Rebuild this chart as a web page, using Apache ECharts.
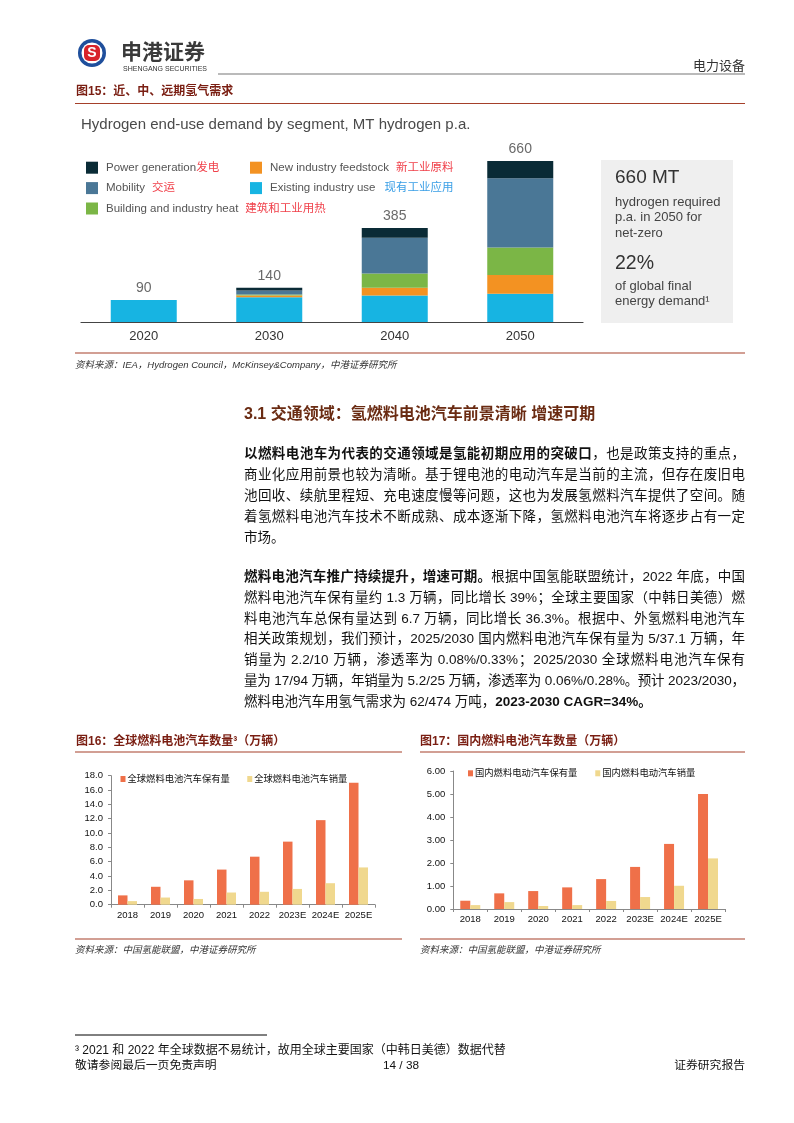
<!DOCTYPE html>
<html><head><meta charset="utf-8">
<script src="https://cdn.jsdelivr.net/npm/echarts@6/dist/echarts.min.js"></script>
<style>html,body{margin:0;padding:0;background:#fff}#c{width:794px;height:1123px}</style>
</head><body><div id="c"></div>
<script>
// ---------- Figure 15 data ----------
const h2Years = ['2020', '2030', '2040', '2050'];
const h2Existing = [90, 101, 109, 116];
const h2NewFeed = [0, 8, 31, 77];
const h2Heat = [0, 4, 59, 112];
const h2Mobility = [0, 16, 146, 284];
const h2Power = [0, 11, 40, 71];
const h2Totals = [90, 140, 385, 660];

// ---------- Figure 16 data ----------
const fcvYears = ['2018', '2019', '2020', '2021', '2022', '2023E', '2024E', '2025E'];
const globalStock = [1.3, 2.5, 3.4, 4.9, 6.7, 8.8, 11.8, 17.0];
const globalSales = [0.5, 1.0, 0.8, 1.7, 1.8, 2.2, 3.0, 5.2];

// ---------- Figure 17 data ----------
const chinaStock = [0.36, 0.68, 0.78, 0.94, 1.30, 1.83, 2.83, 5.00];
const chinaSales = [0.17, 0.30, 0.13, 0.17, 0.35, 0.52, 1.01, 2.20];

const FF = "'Liberation Sans','Noto Sans CJK SC',sans-serif";
const RED = '#ef7049', YEL = '#f0d88e';

const cv = document.createElement('canvas').getContext('2d');
function tw(t, size, weight) { cv.font = (weight || 'normal') + ' ' + size + 'px ' + FF; return cv.measureText(t).width; }
function T(x, y, text, o) {
  o = o || {};
  return { type: 'text', x: x, y: y, silent: true, style: {
    text: text, fontSize: o.size || 12, fontWeight: o.weight || 'normal', fontStyle: o.style || 'normal',
    fontFamily: o.family || FF, fill: o.color || '#000', align: o.align || 'left', verticalAlign: 'middle' } };
}
function L(x1, y1, x2, y2, color, w) {
  return { type: 'line', silent: true, shape: { x1: x1, y1: y1, x2: x2, y2: y2 }, style: { stroke: color, lineWidth: w || 1 } };
}
function lineEls(segs, x0, x1, y, size, justify) {
  const toks = [];
  segs.forEach(function (sg) { (sg[0].match(/[\x20-\x7e]+|./gu) || []).forEach(function (s) { toks.push({ s: s, b: sg[1] }); }); });
  toks.forEach(function (k) { k.w = tw(k.s, size, k.b ? 'bold' : 'normal'); });
  const W = toks.reduce(function (a, k) { return a + k.w; }, 0);
  const extra = justify && toks.length > 1 ? (x1 - x0 - W) / (toks.length - 1) : 0;
  let x = x0; const els = [];
  toks.forEach(function (k) { els.push(T(x, y, k.s, { size: size, weight: k.b ? 'bold' : 'normal', color: '#111' })); x += k.w + extra; });
  return els;
}

const para1 = [
  [[['以燃料电池车为代表的交通领域是氢能初期应用的突破口', 1], ['，也是政策支持的重点，', 0]], 454, true],
  [[['商业化应用前景也较为清晰。基于锂电池的电动汽车是当前的主流，但存在废旧电', 0]], 475, true],
  [[['池回收、续航里程短、充电速度慢等问题，这也为发展氢燃料汽车提供了空间。随', 0]], 496, true],
  [[['着氢燃料电池汽车技术不断成熟、成本逐渐下降，氢燃料电池汽车将逐步占有一定', 0]], 517, true],
  [[['市场。', 0]], 538, false],
  [[['燃料电池汽车推广持续提升，增速可期。', 1], ['根据中国氢能联盟统计，2022 年底，中国', 0]], 577, true],
  [[['燃料电池汽车保有量约 1.3 万辆，同比增长 39%；全球主要国家（中韩日美德）燃', 0]], 598, true],
  [[['料电池汽车总保有量达到 6.7 万辆，同比增长 36.3%。根据中、外氢燃料电池汽车', 0]], 619, true],
  [[['相关政策规划，我们预计，2025/2030 国内燃料电池汽车保有量为 5/37.1 万辆，年', 0]], 639.5, true],
  [[['销量为 2.2/10 万辆，渗透率为 0.08%/0.33%；2025/2030 全球燃料电池汽车保有', 0]], 660, true],
  [[['量为 17/94 万辆，年销量为 5.2/25 万辆，渗透率为 0.06%/0.28%。预计 2023/2030，', 0]], 681, true],
  [[['燃料电池汽车用氢气需求为 62/474 万吨，', 0], ['2023-2030 CAGR=34%。', 1]], 702, false]
];

let G = [];
// header
G.push({ type: 'circle', silent: true, shape: { cx: 92, cy: 53, r: 14 }, style: { fill: '#1f4f9c' } });
G.push({ type: 'circle', silent: true, shape: { cx: 92, cy: 53, r: 10.5 }, style: { fill: '#fff' } });
G.push({ type: 'rect', silent: true, shape: { x: 84, y: 45, width: 16, height: 16, r: 5 }, style: { fill: '#d8232a' } });
G.push(T(92, 53.5, 'S', { size: 14, weight: 'bold', color: '#fff', align: 'center' }));
G.push(T(121, 53, '申港证券', { size: 21, weight: 'bold', color: '#3a3a3a' }));
G.push(T(123, 69.5, 'SHENGANG SECURITIES', { size: 7, color: '#333' }));
G.push(L(218, 74, 745, 74, '#777', 1.2));
G.push(T(745, 66, '电力设备', { size: 13, color: '#333', align: 'right' }));
G.push(T(76, 92, '图15：近、中、远期氢气需求', { size: 12, weight: 'bold', color: '#7a1e12' }));
G.push(L(75, 103.5, 745, 103.5, '#a5402a', 1.2));
// figure 15 title
G.push(T(81, 125, 'Hydrogen end-use demand by segment, MT hydrogen p.a.', { size: 15, color: '#4a4a4a' }));
// gray box
G.push({ type: 'rect', silent: true, shape: { x: 601, y: 160, width: 132, height: 163 }, style: { fill: '#efefef' } });
G.push(T(615, 178, '660 MT', { size: 19, color: '#333' }));
G.push(T(615, 202, 'hydrogen required', { size: 13, color: '#444' }));
G.push(T(615, 217.7, 'p.a. in 2050 for', { size: 13, color: '#444' }));
G.push(T(615, 233, 'net-zero', { size: 13, color: '#444' }));
G.push(T(615, 264, '22%', { size: 19.5, color: '#333' }));
G.push(T(615, 286, 'of global final', { size: 13, color: '#444' }));
G.push(T(615, 301.7, 'energy demand¹', { size: 13, color: '#444' }));
// source 15
G.push(L(75, 353, 745, 353, '#a5402a', 1.2));
G.push(T(75, 365, '资料来源：IEA，Hydrogen Council，McKinsey&Company，中港证券研究所', { size: 9.5, style: 'italic', color: '#333' }));
// section heading + body
G.push(T(244, 415, '3.1 交通领域：氢燃料电池汽车前景清晰 增速可期', { size: 16, weight: 'bold', color: '#6a2b12' }));
para1.forEach(function (ln) { G = G.concat(lineEls(ln[0], 244, 745, ln[1], 13.5, ln[2])); });
// figure 16 / 17 titles
G.push(T(76, 741.5, '图16：全球燃料电池汽车数量³（万辆）', { size: 12, weight: 'bold', color: '#7a1e12' }));
G.push(L(75, 752, 402, 752, '#a5402a', 1.2));
G.push(T(420, 741.5, '图17：国内燃料电池汽车数量（万辆）', { size: 12, weight: 'bold', color: '#7a1e12' }));
G.push(L(420, 752, 745, 752, '#a5402a', 1.2));
G.push(L(75, 939, 402, 939, '#a5402a', 1.2));
G.push(L(420, 939, 745, 939, '#a5402a', 1.2));
G.push(T(75, 950, '资料来源：中国氢能联盟，中港证券研究所', { size: 9.5, style: 'italic', color: '#333' }));
G.push(T(420, 950, '资料来源：中国氢能联盟，中港证券研究所', { size: 9.5, style: 'italic', color: '#333' }));
// footnote / footer
G.push(L(75, 1035, 267, 1035, '#000', 1));
G.push(T(75, 1051, '³ 2021 和 2022 年全球数据不易统计，故用全球主要国家（中韩日美德）数据代替', { size: 12, color: '#111' }));
G.push(T(75, 1066, '敬请参阅最后一页免责声明', { size: 11.8, color: '#111' }));
G.push(T(401, 1066, '14 / 38', { size: 11.8, color: '#111', align: 'center' }));
G.push(T(745, 1066, '证券研究报告', { size: 11.8, color: '#111', align: 'right' }));

const LEG = {
  'Power generation': '{a|Power generation}{r0|发电}',
  'Mobility': '{a|Mobility}{r|交运}',
  'Building and industry heat': '{a|Building and industry heat}{r|建筑和工业用热}',
  'New industry feedstock': '{a|New industry feedstock}{r|新工业原料}',
  'Existing industry use': '{a|Existing industry use}{bl|现有工业应用}'
};
const legRich = {
  a: { color: '#555', fontSize: 11.5, fontFamily: FF, lineHeight: 12, padding: [0, 0, 0, 3] },
  r0: { color: '#f0404a', fontSize: 11.5, fontFamily: FF, lineHeight: 12 },
  r: { color: '#f0404a', fontSize: 11.5, fontFamily: FF, lineHeight: 12, padding: [0, 0, 0, 7] },
  bl: { color: '#3a9fe6', fontSize: 11.5, fontFamily: FF, lineHeight: 12, padding: [0, 0, 0, 9] }
};
function h2Legend(left, data) {
  return { left: left, top: 161.7, padding: 0, orient: 'vertical', itemWidth: 12, itemHeight: 12, itemGap: 8.4, icon: 'rect',
    data: data, formatter: function (n) { return LEG[n]; }, textStyle: { rich: legRich }, selectedMode: false };
}
function smallLegend(left, top, gap, data) {
  return { left: left, top: top, padding: 0, itemWidth: 5, itemHeight: 6, itemGap: gap, icon: 'rect', data: data, selectedMode: false,
    textStyle: { fontSize: 9.3, color: '#111', fontFamily: FF, lineHeight: 12, padding: [0, 0, 0, -3] } };
}
const axBase = { lineStyle: { color: '#888', width: 1 } };

const h2Bar = function (name, data, color) {
  return { name: name, type: 'bar', stack: 'h2', xAxisIndex: 0, yAxisIndex: 0, barWidth: 66, data: data,
    itemStyle: { color: color }, emphasis: { disabled: true } };
};

const option = {
  animation: false,
  graphic: { elements: G },
  legend: [
    h2Legend(86, ['Power generation', 'Mobility', 'Building and industry heat']),
    h2Legend(250, ['New industry feedstock', 'Existing industry use']),
    smallLegend(120.5, 773, 17.5, ['全球燃料电池汽车保有量', '全球燃料电池汽车销量']),
    smallLegend(468, 767.3, 18, ['国内燃料电动汽车保有量', '国内燃料电动汽车销量'])
  ],
  grid: [
    { left: 81, top: 161, width: 502, height: 161 },
    { left: 111, top: 775.7, width: 264, height: 129 },
    { left: 453.3, top: 771, width: 271.7, height: 138 }
  ],
  xAxis: [
    { gridIndex: 0, type: 'category', data: h2Years, axisLine: { lineStyle: { color: '#444', width: 1.2 } }, axisTick: { show: false },
      axisLabel: { fontSize: 13, color: '#333', margin: 7.5, fontFamily: FF } },
    { gridIndex: 1, type: 'category', data: fcvYears, axisLine: axBase, axisTick: { show: true, length: 3, lineStyle: { color: '#888' } },
      axisLabel: { fontSize: 9.5, color: '#111', margin: 6, interval: 0, fontFamily: FF } },
    { gridIndex: 2, type: 'category', data: fcvYears, axisLine: axBase, axisTick: { show: true, length: 3, lineStyle: { color: '#888' } },
      axisLabel: { fontSize: 9.5, color: '#111', margin: 6, interval: 0, fontFamily: FF } }
  ],
  yAxis: [
    { gridIndex: 0, type: 'value', min: 0, max: 660, show: false },
    { gridIndex: 1, type: 'value', min: 0, max: 18, interval: 2, axisLine: { show: true, lineStyle: { color: '#888' } },
      axisTick: { show: true, length: 3, lineStyle: { color: '#888' } }, splitLine: { show: false },
      axisLabel: { fontSize: 9.5, color: '#111', margin: 8, fontFamily: FF, formatter: function (v) { return v.toFixed(1); } } },
    { gridIndex: 2, type: 'value', min: 0, max: 6, interval: 1, axisLine: { show: true, lineStyle: { color: '#888' } },
      axisTick: { show: true, length: 3, lineStyle: { color: '#888' } }, splitLine: { show: false },
      axisLabel: { fontSize: 9.5, color: '#111', margin: 8, fontFamily: FF, formatter: function (v) { return v.toFixed(2); } } }
  ],
  series: [
    h2Bar('Existing industry use', h2Existing, '#17b4e2'),
    h2Bar('New industry feedstock', h2NewFeed, '#f39222'),
    h2Bar('Building and industry heat', h2Heat, '#7bb646'),
    h2Bar('Mobility', h2Mobility, '#4a7796'),
    h2Bar('Power generation', h2Power, '#0a2b36'),
    { type: 'scatter', xAxisIndex: 0, yAxisIndex: 0, data: h2Totals, symbolSize: 1, itemStyle: { color: 'rgba(0,0,0,0)' },
      label: { show: true, position: 'top', distance: 4, fontSize: 14, color: '#444', fontFamily: FF }, silent: true },
    { name: '全球燃料电池汽车保有量', type: 'bar', xAxisIndex: 1, yAxisIndex: 1, data: globalStock, barWidth: 9.5, barGap: '0%', itemStyle: { color: RED } },
    { name: '全球燃料电池汽车销量', type: 'bar', xAxisIndex: 1, yAxisIndex: 1, data: globalSales, barWidth: 9.5, barGap: '0%', itemStyle: { color: YEL } },
    { name: '国内燃料电动汽车保有量', type: 'bar', xAxisIndex: 2, yAxisIndex: 2, data: chinaStock, barWidth: 10, barGap: '0%', itemStyle: { color: RED } },
    { name: '国内燃料电动汽车销量', type: 'bar', xAxisIndex: 2, yAxisIndex: 2, data: chinaSales, barWidth: 10, barGap: '0%', itemStyle: { color: YEL } }
  ]
};
const chart = echarts.init(document.getElementById('c'), null, { renderer: 'canvas' });
chart.setOption(option);
</script></body></html>
